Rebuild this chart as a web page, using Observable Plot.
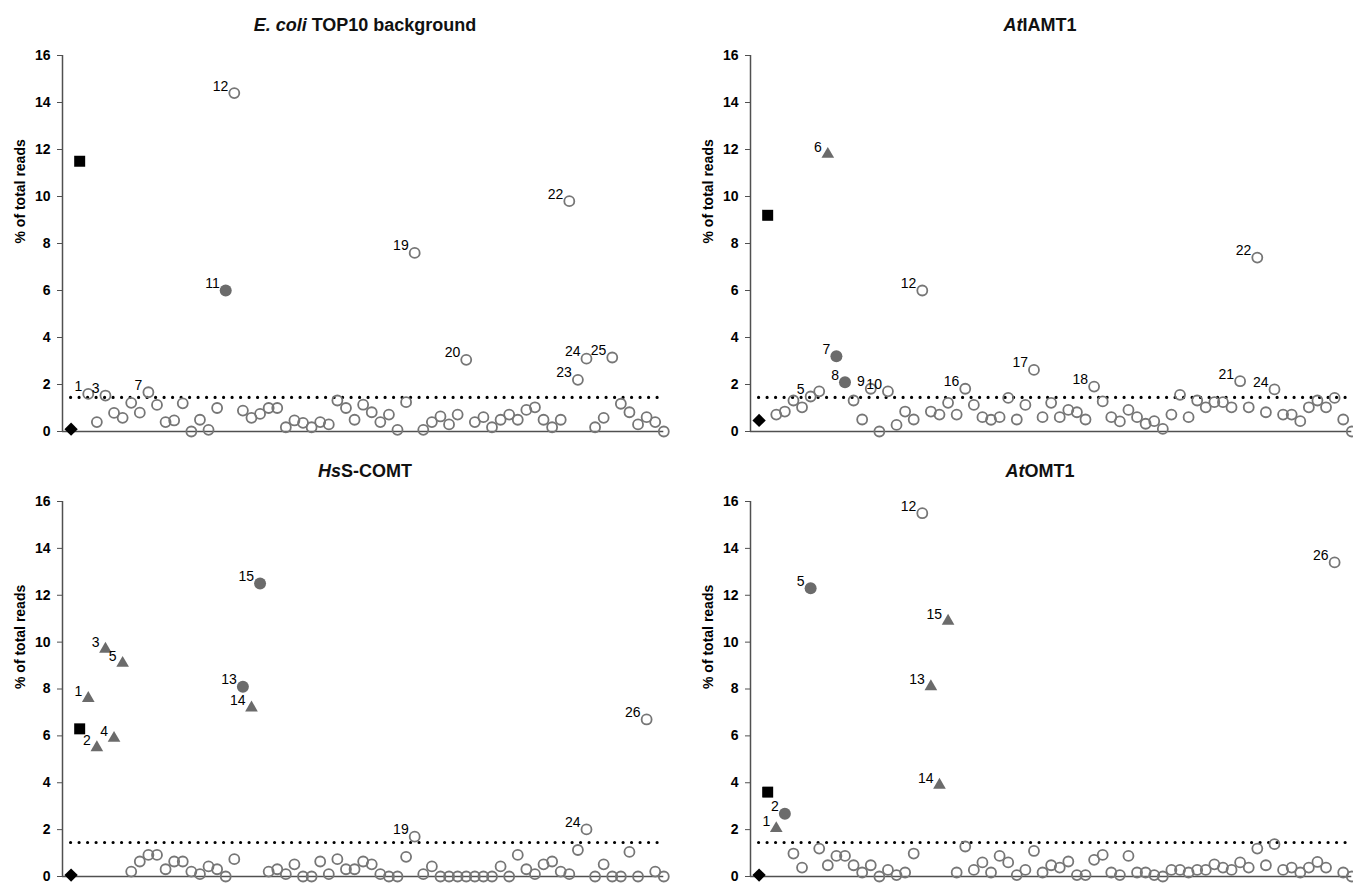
<!DOCTYPE html>
<html><head><meta charset="utf-8">
<script src="https://cdn.jsdelivr.net/npm/d3@7"></script>
<script src="https://cdn.jsdelivr.net/npm/@observablehq/plot@0.6"></script>
<style>
body{margin:0;background:#fff;font-family:"Liberation Sans",Arial,sans-serif;}
#root{position:relative;width:1353px;height:885px;overflow:hidden;background:#fff;}
.panel{position:absolute;width:676px;}
.title{height:40px;box-sizing:border-box;padding-top:15px;line-height:20px;font-size:18px;font-weight:bold;text-align:center;color:#111;white-space:nowrap;}
.panel svg{display:block;}
</style></head><body><div id="root"></div>
<script>
// ---- data (clone index 1..68; controls: [diamond, square]) ----
const yTicks = [0, 2, 4, 6, 8, 10, 12, 14, 16];
const threshold = 1.45;

const ecoliValues = [1.60, 0.40, 1.53, 0.79, 0.58, 1.22, 0.80, 1.67, 1.13, 0.40,
  0.47, 1.20, 0.00, 0.50, 0.07, 1.00, 6.00, 14.40, 0.89, 0.58,
  0.75, 1.00, 1.00, 0.18, 0.47, 0.37, 0.18, 0.40, 0.30, 1.32,
  1.00, 0.50, 1.14, 0.82, 0.40, 0.72, 0.07, 1.25, 7.60, 0.07,
  0.40, 0.64, 0.30, 0.72, 3.05, 0.40, 0.61, 0.18, 0.50, 0.72,
  0.50, 0.92, 1.03, 0.50, 0.18, 0.50, 9.80, 2.20, 3.10, 0.18,
  0.58, 3.15, 1.18, 0.82, 0.30, 0.61, 0.40, 0.00];
const ecoliControls = [0.10, 11.50];
const ecoliFilled = [17];
const ecoliTriangles = [];
const ecoliLabelIdx = [1, 3, 8, 17, 18, 39, 45, 57, 58, 59, 62];
const ecoliLabelText = ["1", "3", "7", "11", "12", "19", "20", "22", "23", "24", "25"];

const iamtValues = [0.72, 0.85, 1.32, 1.03, 1.49, 1.71, 11.80, 3.20, 2.10, 1.32,
  0.51, 1.82, 0.00, 1.71, 0.28, 0.85, 0.51, 6.00, 0.85, 0.72,
  1.22, 0.72, 1.82, 1.13, 0.61, 0.50, 0.61, 1.43, 0.51, 1.13,
  2.62, 0.61, 1.22, 0.61, 0.92, 0.82, 0.51, 1.91, 1.28, 0.61,
  0.43, 0.92, 0.61, 0.33, 0.44, 0.11, 0.72, 1.56, 0.61, 1.32,
  1.03, 1.25, 1.25, 1.03, 2.14, 1.03, 7.40, 0.82, 1.79, 0.72,
  0.72, 0.44, 1.03, 1.32, 1.03, 1.43, 0.51, 0.00];
const iamtControls = [0.47, 9.20];
const iamtFilled = [8, 9];
const iamtTriangles = [7];
const iamtLabelIdx = [5, 7, 8, 9, 12, 14, 18, 23, 31, 38, 55, 57, 59];
const iamtLabelText = ["5", "6", "7", "8", "9", "10", "12", "16", "17", "18", "21", "22", "24"];

const comtValues = [7.60, 5.50, 9.70, 5.90, 9.10, 0.21, 0.64, 0.92, 0.92, 0.31,
  0.64, 0.64, 0.21, 0.10, 0.43, 0.31, 0.00, 0.74, 8.10, 7.20,
  12.50, 0.21, 0.31, 0.10, 0.52, 0.00, 0.00, 0.64, 0.10, 0.74,
  0.31, 0.31, 0.64, 0.52, 0.10, 0.00, 0.00, 0.84, 1.70, 0.10,
  0.43, 0.00, 0.00, 0.00, 0.00, 0.00, 0.00, 0.00, 0.43, 0.00,
  0.92, 0.31, 0.10, 0.52, 0.64, 0.21, 0.10, 1.13, 2.01, 0.00,
  0.52, 0.00, 0.00, 1.05, 0.00, 6.70, 0.21, 0.00];
const comtControls = [0.06, 6.30];
const comtFilled = [19, 21];
const comtTriangles = [1, 2, 3, 4, 5, 20];
const comtLabelIdx = [1, 2, 3, 4, 5, 19, 20, 21, 39, 59, 66];
const comtLabelText = ["1", "2", "3", "4", "5", "13", "14", "15", "19", "24", "26"];

const omtValues = [2.05, 2.68, 0.98, 0.38, 12.30, 1.19, 0.48, 0.88, 0.88, 0.48,
  0.17, 0.48, 0.00, 0.28, 0.06, 0.17, 0.98, 15.50, 8.10, 3.90,
  10.90, 0.17, 1.28, 0.28, 0.60, 0.17, 0.88, 0.60, 0.06, 0.28,
  1.09, 0.17, 0.48, 0.38, 0.64, 0.06, 0.06, 0.71, 0.92, 0.17,
  0.06, 0.88, 0.17, 0.17, 0.06, 0.00, 0.28, 0.28, 0.17, 0.28,
  0.28, 0.52, 0.38, 0.28, 0.60, 0.38, 1.19, 0.48, 1.38, 0.28,
  0.38, 0.17, 0.38, 0.62, 0.38, 13.40, 0.17, 0.00];
const omtControls = [0.06, 3.60];
const omtFilled = [2, 5];
const omtTriangles = [1, 19, 20, 21];
const omtLabelIdx = [1, 2, 5, 18, 19, 20, 21, 66];
const omtLabelText = ["1", "2", "5", "12", "13", "14", "15", "26"];

// ---- drawing ----
const GRAY = "#6b6b6b";
const OPEN = "#767676";
const AXIS = "#505050";

function makePlot(values, controls, filledIdx, triIdx, labelIdx, labelText, h, mb) {
  const clones = values.map((v, i) => ({pos: i + 2, idx: i + 1, v}));
  const open = clones.filter(d => !filledIdx.includes(d.idx) && !triIdx.includes(d.idx));
  const filled = clones.filter(d => filledIdx.includes(d.idx));
  const tris = clones.filter(d => triIdx.includes(d.idx));
  const labels = labelIdx.map((k, j) => ({pos: k + 1, v: values[k - 1], t: labelText[j]}));
  return Plot.plot({
    width: 676, height: h,
    marginLeft: 62, marginRight: 12.7, marginTop: 15, marginBottom: mb,
    x: {domain: [-1, 69], axis: null},
    y: {domain: [0, 16]},
    style: {fontFamily: "'Liberation Sans', Arial, sans-serif", color: "#000", background: "transparent", overflow: "visible"},
    marks: [
      Plot.axisY({ticks: yTicks, tickSize: 5, tickPadding: 7, fontSize: 14, fontWeight: "bold", label: null, stroke: AXIS}),
      Plot.ruleX([-1], {y1: 0, y2: 16, stroke: AXIS, strokeWidth: 1.5}),
      Plot.ruleY([0], {x1: -1, x2: 69, stroke: AXIS, strokeWidth: 1.5}),
      Plot.ruleY([threshold], {x1: 0, x2: 69, stroke: "#000", strokeWidth: 3.2, strokeDasharray: "0 8.5", strokeLinecap: "round"}),
      Plot.dot(open, {x: "pos", y: "v", r: 5, stroke: OPEN, strokeWidth: 1.8, fill: "none"}),
      Plot.dot(filled, {x: "pos", y: "v", r: 6, fill: GRAY, stroke: "none"}),
      Plot.dot(tris, {x: "pos", y: "v", r: 4.7, symbol: "triangle", fill: GRAY, stroke: "none"}),
      Plot.dot([controls[1]], {x: () => 1, y: d => d, r: 6.2, symbol: "square", fill: "#000"}),
      Plot.dot([controls[0]], {x: () => 0, y: d => d, r: 6, symbol: "diamond2", fill: "#000"}),
      Plot.text(labels, {x: "pos", y: "v", text: "t", dx: -6, dy: -7, textAnchor: "end", fontSize: 14, fill: "#000"}),
      Plot.text(["% of total reads"], {frameAnchor: "left", dx: -42, rotate: -90, fontWeight: "bold", fontSize: 14, fill: "#000"})
    ]
  });
}

const root = document.getElementById("root");
function addPanel(left, top, titleHTML, titlePad, plot) {
  const div = document.createElement("div");
  div.className = "panel";
  div.style.left = left + "px";
  div.style.top = top + "px";
  const t = document.createElement("div");
  t.className = "title";
  t.style.paddingLeft = titlePad + "px";
  t.innerHTML = titleHTML;
  div.appendChild(t);
  div.appendChild(plot);
  root.appendChild(div);
}

addPanel(0, 0, "<i>E. coli</i> TOP10 background", 54,
  makePlot(ecoliValues, ecoliControls, ecoliFilled, ecoliTriangles, ecoliLabelIdx, ecoliLabelText, 399, 8));
addPanel(688, 0, "<i>At</i>IAMT1", 28,
  makePlot(iamtValues, iamtControls, iamtFilled, iamtTriangles, iamtLabelIdx, iamtLabelText, 399, 8));
addPanel(0, 446, "<i>Hs</i>S-COMT", 54,
  makePlot(comtValues, comtControls, comtFilled, comtTriangles, comtLabelIdx, comtLabelText, 399, 9));
addPanel(688, 446, "<i>At</i>OMT1", 28,
  makePlot(omtValues, omtControls, omtFilled, omtTriangles, omtLabelIdx, omtLabelText, 399, 9));
</script></body></html>
